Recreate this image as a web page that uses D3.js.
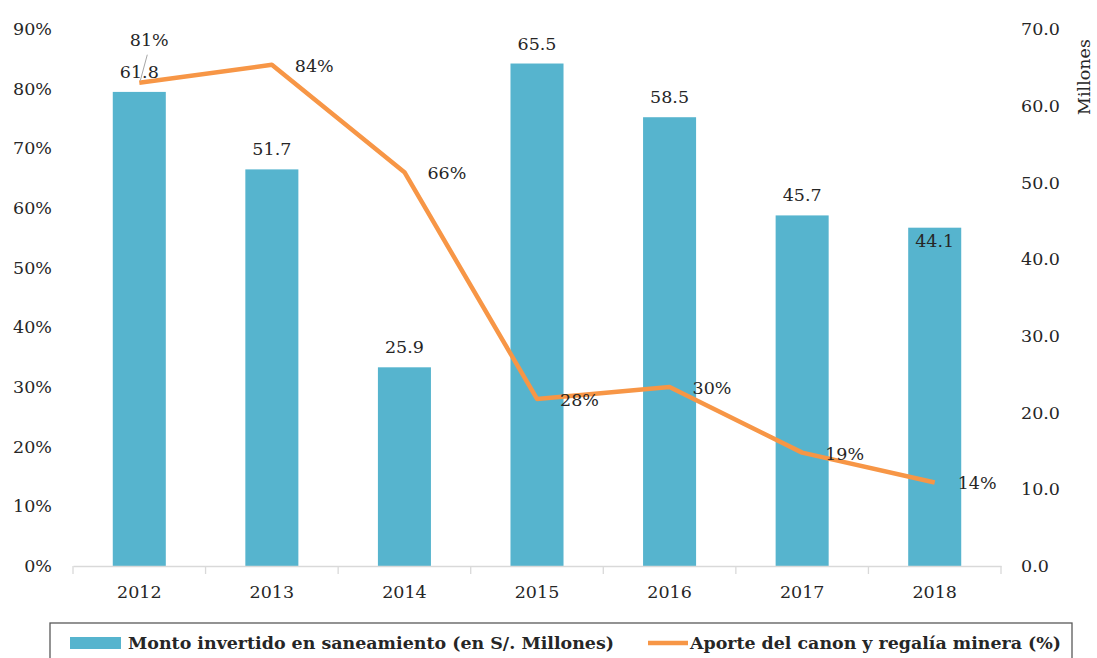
<!DOCTYPE html>
<html><head><meta charset="utf-8">
<script src="https://cdn.jsdelivr.net/npm/d3@7"></script>
<style>body{margin:0;background:#fff}svg{display:block}text{font-family:"DejaVu Serif",serif;fill:#262626}</style>
</head><body>
<svg id="c" width="1097" height="658"></svg>
<script>
const years = ["2012","2013","2014","2015","2016","2017","2018"];
const monto = [61.8, 51.7, 25.9, 65.5, 58.5, 45.7, 44.1];
const aporte = [0.81, 0.84, 0.66, 0.28, 0.30, 0.19, 0.14];
const leftTicks = [0,0.1,0.2,0.3,0.4,0.5,0.6,0.7,0.8,0.9];
const rightTicks = [0,10,20,30,40,50,60,70];
const seriesNames = ["Monto invertido en saneamiento (en S/. Millones)", "Aporte del canon y regalía minera (%)"];
const rightTitle = "Millones";

const svg = d3.select("#c");
const L = 73, R = 1001, T = 29, B = 566;
const x = d3.scaleBand().domain(years).range([L, R]).paddingInner(0.6).paddingOuter(0.3);
const xb = d3.scaleBand().domain(years).range([L, R]);
const yL = d3.scaleLinear().domain([0, 0.9]).range([B, T]);
const yR = d3.scaleLinear().domain([0, 70]).range([B, T]);
const barColor = "#56B4CE", lineColor = "#F79646";
const fs = 17.5;

// bars
svg.selectAll("rect.bar").data(years).join("rect").attr("class","bar")
  .attr("x", d => x(d)).attr("width", x.bandwidth())
  .attr("y", (d,i) => yR(monto[i])).attr("height", (d,i) => B - yR(monto[i]))
  .attr("fill", barColor);

// x axis
const xa = svg.append("g").attr("transform", `translate(0,${B})`)
  .call(d3.axisBottom(xb).tickSize(0).tickPadding(20));
xa.select(".domain").attr("stroke", "#d9d9d9").attr("stroke-width", 1.3);
xa.selectAll("text").attr("font-size", fs).style("font-family","DejaVu Serif");
const bounds = years.map(d => xb(d)).concat([R]);
svg.selectAll("line.tk").data(bounds).join("line").attr("class","tk")
  .attr("x1", d => d).attr("x2", d => d).attr("y1", B).attr("y2", B + 8)
  .attr("stroke", "#d9d9d9").attr("stroke-width", 1.3);

// left axis
const la = svg.append("g").attr("transform", `translate(${L},0)`)
  .call(d3.axisLeft(yL).tickValues(leftTicks).tickFormat(d3.format(".0%")).tickSize(0).tickPadding(21));
la.select(".domain").remove();
la.selectAll("text").attr("font-size", fs).style("font-family","DejaVu Serif");

// right axis
const ra = svg.append("g").attr("transform", `translate(${R},0)`)
  .call(d3.axisRight(yR).tickValues(rightTicks).tickFormat(d3.format(".1f")).tickSize(0).tickPadding(20));
ra.select(".domain").remove();
ra.selectAll("text").attr("font-size", fs).style("font-family","DejaVu Serif");
svg.append("text").attr("transform", `translate(1090,77) rotate(-90)`)
  .attr("text-anchor","middle").attr("font-size", fs).text(rightTitle);

// line
const cx = d => xb(d) + xb.bandwidth()/2;
const line = d3.line().x((d,i) => cx(years[i])).y(d => yL(d));
svg.append("path").datum(aporte).attr("d", line).attr("fill","none")
  .attr("stroke", lineColor).attr("stroke-width", 4.5).attr("stroke-linejoin","round");

// bar labels
svg.selectAll("text.bl").data(years).join("text").attr("class","bl")
  .attr("x", d => cx(d))
  .attr("y", (d,i) => i === years.length-1 ? yR(monto[i]) + 19 : yR(monto[i]) - 14)
  .attr("text-anchor","middle").attr("font-size", fs)
  .text((d,i) => d3.format(".1f")(monto[i]));

// line labels
svg.selectAll("text.ll").data(years).join("text").attr("class","ll")
  .attr("x", (d,i) => i === 0 ? cx(d) + 10 : cx(d) + 23)
  .attr("y", (d,i) => i === 0 ? yL(aporte[i]) - 37 : yL(aporte[i]) + 7)
  .attr("text-anchor", (d,i) => i === 0 ? "middle" : "start").attr("font-size", fs)
  .text((d,i) => d3.format(".0%")(aporte[i]));
// leader line for first label
svg.append("line").attr("x1", cx(years[0]) + 1).attr("y1", yL(aporte[0]) - 2)
  .attr("x2", cx(years[0]) + 8).attr("y2", yL(aporte[0]) - 28)
  .attr("stroke", "#a6a6a6").attr("stroke-width", 1);

// legend
const lg = svg.append("g");
lg.append("rect").attr("x", 50).attr("y", 623).attr("width", 1022).attr("height", 50)
  .attr("fill","none").attr("stroke","#595959").attr("stroke-width", 1.3);
lg.append("rect").attr("x", 70).attr("y", 637).attr("width", 51).attr("height", 12).attr("fill", barColor);
lg.append("text").attr("x", 128).attr("y", 649).attr("font-size", fs).attr("font-weight","bold")
  .attr("textLength", 486).attr("lengthAdjust","spacingAndGlyphs").text(seriesNames[0]);
lg.append("line").attr("x1", 648).attr("x2", 688).attr("y1", 643).attr("y2", 643)
  .attr("stroke", lineColor).attr("stroke-width", 4.5);
lg.append("text").attr("x", 690).attr("y", 649).attr("font-size", fs).attr("font-weight","bold")
  .attr("textLength", 371).attr("lengthAdjust","spacingAndGlyphs").text(seriesNames[1]);
</script>
</body></html>
